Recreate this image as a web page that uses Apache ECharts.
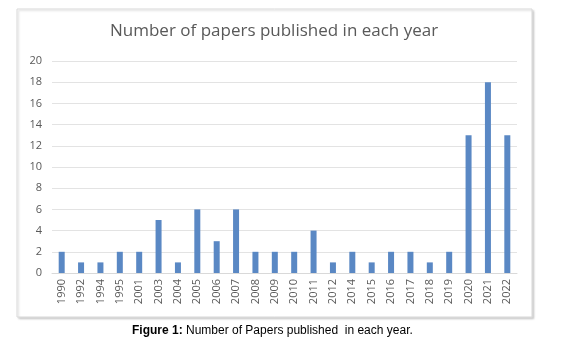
<!DOCTYPE html>
<html><head><meta charset="utf-8">
<script src="https://cdn.jsdelivr.net/npm/echarts@6/dist/echarts.min.js"></script>
<style>html,body{margin:0;padding:0;background:#fff}#c{width:568px;height:347px}</style>
</head><body><div id="c"></div>
<script>
var years = ['1990','1992','1994','1995','2001','2003','2004','2005','2006','2007','2008','2009','2010','2011','2012','2014','2015','2016','2017','2018','2019','2020','2021','2022'];
var papers = [2,1,1,2,2,5,1,6,3,6,2,2,2,4,1,2,1,2,2,1,2,13,18,13];
var yTicks = [0,2,4,6,8,10,12,14,16,18,20];
var chartTitle = 'Number of papers published in each year';
var captionBold = 'Figure 1:';
var captionText = ' Number of Papers published  in each year.';

var chart = echarts.init(document.getElementById('c'), null, {renderer:'canvas'});
chart.setOption({
  animation:false,
  backgroundColor:'#fff',
  graphic:[
    {type:'rect', z:-10, shape:{x:17, y:9, width:515, height:308}, style:{fill:'#fff', stroke:'#d9d9d9', lineWidth:1, shadowColor:'rgba(0,0,0,0.15)', shadowOffsetX:1.5, shadowOffsetY:1.5, shadowBlur:2}},
    {type:'text', left:110, top:23, style:{text:chartTitle, fill:'#595959', font:'17px "Open Sans", sans-serif'}},
    {type:'text', top:325, left:132, style:{rich:{b:{fontWeight:'bold', fontSize:12, fontFamily:'"Liberation Sans", Arial, sans-serif', fill:'#000'}, n:{fontSize:12, fontFamily:'"Liberation Sans", Arial, sans-serif', fill:'#000'}}, text:'{b|'+captionBold+'}{n|'+captionText+'}'}}
  ],
  grid:{left:52, right:51, top:61, bottom:74},
  xAxis:{type:'category', data:years,
    axisLine:{lineStyle:{color:'#d9d9d9'}}, axisTick:{show:false},
    axisLabel:{rotate:90, color:'#595959', fontSize:11, fontFamily:'"Open Sans", sans-serif', margin:6, interval:0}},
  yAxis:{type:'value', min:0, max:20, interval:2,
    axisLine:{show:false}, axisTick:{show:false},
    splitLine:{lineStyle:{color:'#e3e3e3'}},
    axisLabel:{color:'#595959', fontSize:11, fontFamily:'"Open Sans", sans-serif', margin:10,
      formatter:function(v){return yTicks.indexOf(v)>=0?String(v):'';}}},
  series:[{type:'bar', data:papers, barWidth:6, itemStyle:{color:'#5a88c4'}}]
});
</script></body></html>
